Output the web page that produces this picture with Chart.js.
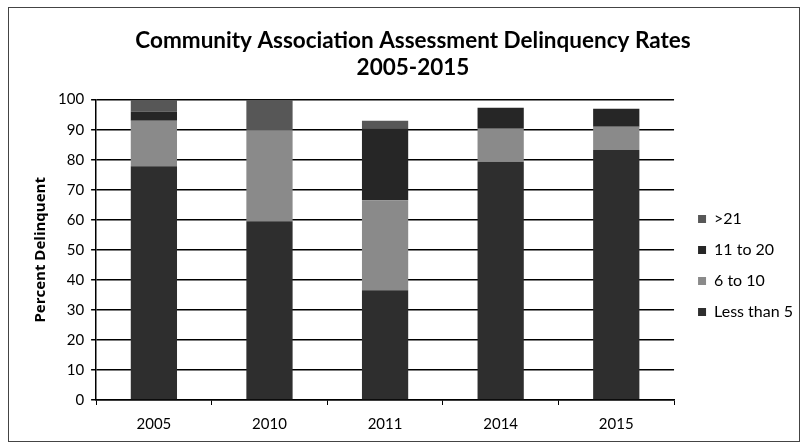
<!DOCTYPE html>
<html>
<head>
<meta charset="utf-8">
<script src="https://cdn.jsdelivr.net/npm/chart.js@4/dist/chart.umd.min.js"></script>
<style>
  html, body { margin: 0; padding: 0; background: #fff; }
  #wrap { width: 802px; height: 445px; }
</style>
</head>
<body>
<div id="wrap"><canvas id="chart" width="802" height="445"></canvas></div>
<script>
const years = ["2005", "2010", "2011", "2014", "2015"];
const lessThan5 = [77.8, 59.5, 36.5, 79.3, 83.2];
const sixTo10 = [15.2, 30.2, 30, 11, 7.8];
const elevenTo20 = [3, 0, 24, 7, 6];
const over21 = [4, 10.3, 2.5, 0, 0];
const yTicks = [0, 10, 20, 30, 40, 50, 60, 70, 80, 90, 100];

// white page + thin frame round the whole chart
const frame = {
  id: "frame",
  beforeDraw(chart) {
    const ctx = chart.ctx;
    ctx.save();
    ctx.fillStyle = "#fff";
    ctx.fillRect(0, 0, chart.width, chart.height);
    ctx.strokeStyle = "#444";
    ctx.lineWidth = 1;
    ctx.strokeRect(8.5, 7.5, 791, 434);
    ctx.restore();
  }
};

// nudge the legend block to where it sits in the original
const legendShift = { dx: 9, dy: 35 };
const moveLegend = {
  id: "moveLegend",
  afterLayout(chart) {
    const lg = chart.legend;
    if (!lg) return;
    lg.left += legendShift.dx;
    lg.right += legendShift.dx;
    lg.top += legendShift.dy;
    lg.bottom += legendShift.dy;
  }
};

const data = {
  labels: years,
  datasets: [
    { label: "Less than 5", data: lessThan5, backgroundColor: "#2e2e2e" },
    { label: "6 to 10", data: sixTo10, backgroundColor: "#8a8a8a" },
    { label: "11 to 20", data: elevenTo20, backgroundColor: "#262626" },
    { label: ">21", data: over21, backgroundColor: "#575757" }
  ]
};

const config = {
  type: "bar",
  data: data,
  plugins: [frame, moveLegend],
  options: {
    responsive: false,
    animation: false,
    layout: { padding: { left: 32, right: 8, top: 18, bottom: 2 } },
    datasets: { bar: { barPercentage: 0.4, categoryPercentage: 1 } },
    scales: {
      x: {
        stacked: true,
        grid: {
          offset: true,
          drawOnChartArea: false,
          drawTicks: true,
          tickLength: 5,
          color: "#000",
          lineWidth: 1
        },
        border: { color: "#000", width: 1.5 },
        ticks: { color: "#000", padding: 10, font: { family: "Lato", size: 15 } }
      },
      y: {
        stacked: true,
        min: 0,
        max: 100,
        afterBuildTicks(axis) { axis.ticks = yTicks.map(v => ({ value: v })); },
        grid: { color: "#000", lineWidth: 1.5, tickLength: 5 },
        border: { color: "#000", width: 1.5 },
        ticks: { color: "#000", padding: 7, font: { family: "Lato", size: 15 } },
        title: {
          display: true,
          text: "Percent Delinquent",
          color: "#000",
          padding: { top: 0, bottom: 1 },
          font: { family: "Open Sans", size: 15, weight: "bold" }
        }
      }
    },
    plugins: {
      title: {
        display: true,
        text: ["Community Association Assessment Delinquency Rates", "2005-2015"],
        color: "#000",
        font: { family: "Lato", size: 22.5, weight: "bold", lineHeight: 1.17 },
        padding: { top: 10, bottom: 19 }
      },
      legend: {
        position: "right",
        reverse: true,
        labels: {
          boxWidth: 8,
          boxHeight: 8,
          padding: 15,
          color: "#000",
          font: { family: "Lato", size: 16 }
        }
      },
      tooltip: { enabled: false }
    }
  }
};

new Chart(document.getElementById("chart"), config);
</script>
</body>
</html>
